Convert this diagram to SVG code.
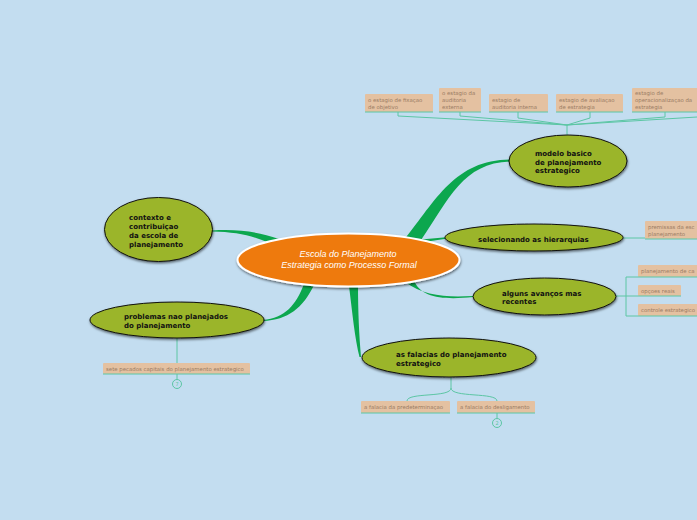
<svg xmlns="http://www.w3.org/2000/svg" width="697" height="520" viewBox="0 0 697 520">
<defs>
<filter id="sh" x="-20%" y="-20%" width="140%" height="160%">
<feDropShadow dx="0.5" dy="1.5" stdDeviation="0.8" flood-color="#000" flood-opacity="0.55"/>
</filter>
<style>
.main{fill:#9bb52c;stroke:#111;stroke-width:1;filter:url(#sh)}
.mt{font-family:"DejaVu Sans",Verdana,sans-serif;font-weight:bold;font-size:7px;fill:#111}
.box{fill:#e4c1a1}
.st{font-family:"DejaVu Sans",Verdana,sans-serif;font-size:5.4px;fill:#9a7c64}
.ul{stroke:#5cc6a4;stroke-width:1;fill:none}
.tl{stroke:#5cc6a4;stroke-width:1;fill:none}
.tap{fill:#0ca74e}
.cir{fill:#c3ddf0;stroke:#5cc6a4;stroke-width:1}
.ct{font-family:"DejaVu Sans",sans-serif;font-size:5px;fill:#5cc6a4;text-anchor:middle}
</style>
</defs>
<rect width="697" height="520" fill="#c3ddf0"/>

<g id="connectors">
<path class="tap" d="M404 240 C436 200 455 160 510 159.5 L510 161.5 C463 163 449 199 421 240 Z"/>
<path class="tap" d="M421 239.5 L446 237.3 L446 238.7 L421 242.5 Z"/>
<path class="tap" d="M405 282 C424 296 446 297.5 473 296 L473 297 C444 300 420 298 414 280 Z"/>
<path class="tap" d="M212 230.5 C240 229 258 232 279 239 L271 244 C254 236 238 232 212 231.5 Z"/>
<path class="tap" d="M304 284 C296 305 285 318 263 320 L263 321 C288 320 303 308 314 285 Z"/>
<path class="tap" d="M349 286 C352 310 355 340 359.5 357 L361 357 C359 335 358 310 358 286 Z"/>

<path class="tl" d="M398 112 L398 116 L567 125 M460 112 L460 116 L567 125 M518 112 L518 118 L567 125 M590 112 L590 118 L567 125 M665 112 L665 117 L567 125 M697 117 L567 125 M567 125 L567 135"/>
<path class="tl" d="M623 238 L645 238"/>
<path class="tl" d="M616 296 L626 296 M626 277 L626 316"/>
<path class="tl" d="M177 338 L177 374 M177 374 L177 380"/>
<path class="tl" d="M451 377 L451 388 C451 398 407 392 407 401 M451 388 C451 398 497 392 497 401 M497 413 L497 418.5"/>
</g>

<g id="central">
<ellipse cx="348.5" cy="260" rx="111" ry="26.5" fill="#ee7a11" stroke="#fff" stroke-width="2" filter="url(#sh)"/>
<text font-family="Liberation Sans,Arial,sans-serif" font-style="italic" font-size="9" fill="#fff" text-anchor="middle"><tspan x="348" y="257">Escola do Planejamento</tspan><tspan x="349" y="267.5">Estrategia como Processo Formal</tspan></text>
</g>

<g id="n-modelo">
<ellipse class="main" cx="568" cy="161" rx="59" ry="26"/>
<text class="mt"><tspan x="535" y="156">modelo basico</tspan><tspan x="535" y="164.5">de planejamento</tspan><tspan x="535" y="173">estrategico</tspan></text>
</g>
<g id="n-selecionando">
<ellipse class="main" cx="534" cy="237.5" rx="89" ry="13.5"/>
<text class="mt" x="478" y="242">selecionando as hierarquias</text>
</g>
<g id="n-alguns">
<ellipse class="main" cx="544.5" cy="296.5" rx="71.5" ry="18.5"/>
<text class="mt"><tspan x="502" y="296">alguns avanços mas</tspan><tspan x="502" y="304">recentes</tspan></text>
</g>
<g id="n-contexto">
<ellipse class="main" cx="158.5" cy="229.5" rx="54" ry="32"/>
<text class="mt"><tspan x="129" y="220">contexto e</tspan><tspan x="129" y="229">contribuiçao</tspan><tspan x="129" y="238">da escola de</tspan><tspan x="129" y="247">planejamento</tspan></text>
</g>
<g id="n-problemas">
<ellipse class="main" cx="177" cy="320" rx="87" ry="18"/>
<text class="mt"><tspan x="124" y="319">problemas nao planejados</tspan><tspan x="124" y="327.5">do planejamento</tspan></text>
</g>
<g id="n-falacias">
<ellipse class="main" cx="449" cy="357.5" rx="87" ry="19.5"/>
<text class="mt"><tspan x="396" y="357">as falacias do planejamento</tspan><tspan x="396" y="365.5">estrategico</tspan></text>
</g>

<g id="s-fixacao">
<rect class="box" x="365" y="94" width="68" height="18" rx="1"/>
<path class="ul" d="M365 112 L433 112"/>
<text class="st"><tspan x="368" y="102">o estagio de fixaçao</tspan><tspan x="368" y="108.5">de objetivo</tspan></text>
</g>
<g id="s-externa">
<rect class="box" x="439" y="88" width="42" height="24" rx="1"/>
<path class="ul" d="M439 112 L481 112"/>
<text class="st"><tspan x="442" y="94.5">o estagio da</tspan><tspan x="442" y="101.5">auditoria</tspan><tspan x="442" y="108.5">externa</tspan></text>
</g>
<g id="s-interna">
<rect class="box" x="489" y="94" width="59" height="18" rx="1"/>
<path class="ul" d="M489 112 L548 112"/>
<text class="st"><tspan x="492" y="102">estagio de</tspan><tspan x="492" y="108.5">auditoria interna</tspan></text>
</g>
<g id="s-avaliacao">
<rect class="box" x="556" y="94" width="67" height="18" rx="1"/>
<path class="ul" d="M556 112 L623 112"/>
<text class="st"><tspan x="559" y="102">estagio de avaliaçao</tspan><tspan x="559" y="108.5">de estrategia</tspan></text>
</g>
<g id="s-operacionalizacao">
<rect class="box" x="632" y="88" width="70" height="24" rx="1"/>
<path class="ul" d="M632 112 L697 112"/>
<text class="st"><tspan x="635" y="94.5">estagio de</tspan><tspan x="635" y="101.5">operacionalizaçao da</tspan><tspan x="635" y="108.5">estrategia</tspan></text>
</g>
<g id="s-premissas">
<rect class="box" x="645" y="221" width="60" height="18" rx="1"/>
<path class="ul" d="M645 239 L697 239"/>
<text class="st"><tspan x="648" y="229">premissas da esc</tspan><tspan x="648" y="235.5">planejamento</tspan></text>
</g>
<g id="s-cenarios">
<rect class="box" x="638" y="265" width="65" height="12" rx="1"/>
<path class="ul" d="M626 277 L697 277"/>
<text class="st" x="641" y="273">planejamento de ca</text>
</g>
<g id="s-opcoes">
<rect class="box" x="638" y="285" width="43" height="11" rx="1"/>
<path class="ul" d="M626 296 L681 296"/>
<text class="st" x="641" y="292.5">opçoes reais</text>
</g>
<g id="s-controle">
<rect class="box" x="638" y="304" width="65" height="12" rx="1"/>
<path class="ul" d="M626 316 L697 316"/>
<text class="st" x="641" y="312">controle estrategico</text>
</g>
<g id="s-pecados">
<rect class="box" x="103" y="363" width="147" height="11" rx="1"/>
<path class="ul" d="M103 374 L250 374"/>
<text class="st" x="106" y="370.5">sete pecados capitais do planejamento estrategico</text>
<circle class="cir" cx="177" cy="384" r="4.5"/>
<text class="ct" x="177" y="386">7</text>
</g>
<g id="s-predeterminacao">
<rect class="box" x="361" y="401" width="89" height="12" rx="1"/>
<path class="ul" d="M361 413 L450 413"/>
<text class="st" x="364" y="409">a falacia da predeterminaçao</text>
</g>
<g id="s-desligamento">
<rect class="box" x="457" y="401" width="78" height="12" rx="1"/>
<path class="ul" d="M457 413 L535 413"/>
<text class="st" x="460" y="409">a falacia do desligamento</text>
<circle class="cir" cx="497" cy="423" r="4.5"/>
<text class="ct" x="497" y="425">2</text>
</g>
</svg>
